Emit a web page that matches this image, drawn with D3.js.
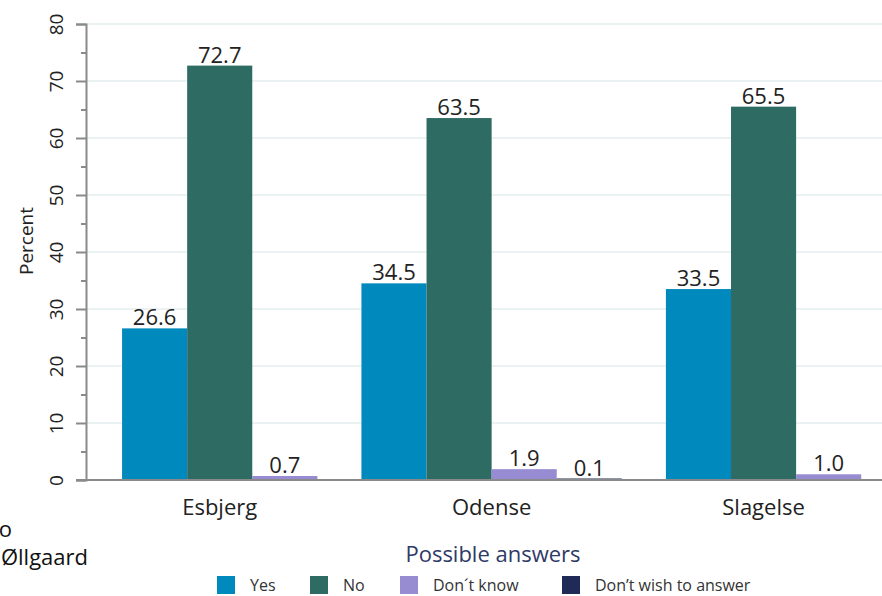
<!DOCTYPE html>
<html>
<head>
<meta charset="utf-8">
<script src="https://cdn.jsdelivr.net/npm/d3@7"></script>
<style>
  body { margin: 0; background: #fff; }
  svg { display: block; font-family: "Open Sans", sans-serif; }
</style>
</head>
<body>
<svg id="chart" width="882" height="596"></svg>
<script>
// data
var cities = ['Esbjerg', 'Odense', 'Slagelse'];
var answers = ['Yes', 'No', 'Don\u00b4t know', 'Don\u2019t wish to answer'];
var yesValues = [26.6, 34.5, 33.5];
var noValues = [72.7, 63.5, 65.5];
var dontKnowValues = [0.7, 1.9, 1.0];
var dontWishValues = [null, 0.1, null];
var yTicks = [0, 10, 20, 30, 40, 50, 60, 70, 80];
var yMinorTicks = [5, 15, 25, 35, 45, 55, 65, 75];

var colors = ['#0089bd', '#2e6b62', '#978bd2', '#1f2b56'];

var svg = d3.select('#chart');
// note: "top" is taken by window.top, so plot edges get their own names
var plotLeft = 86, plotBottom = 480, plotTop = 24, plotRight = 882;

var y = d3.scaleLinear().domain([0, 80]).range([plotBottom, plotTop]);

// bars are laid out in slots; missing answers take no slot
var series = [yesValues, noValues, dontKnowValues, dontWishValues];
var padUnits = 0.554, gapUnits = 0.677;
var bars = [];
var groups = [];
var pos = padUnits;
cities.forEach(function (city, ci) {
    var start = pos;
    series.forEach(function (vals, si) {
        if (vals[ci] == null) return;
        bars.push({city: city, answer: si, value: vals[ci], u: pos});
        pos += 1;
    });
    groups.push({city: city, mid: (start + pos) / 2});
    pos += gapUnits;
});
var totalUnits = pos - gapUnits + padUnits;
var x = d3.scaleLinear().domain([0, totalUnits]).range([plotLeft, plotLeft + totalUnits * 65.1]);
var bw = x(1) - x(0);

// gridlines
svg.append('g')
    .selectAll('line')
    .data(yTicks.slice(1))
    .enter().append('line')
    .attr('x1', plotLeft).attr('x2', plotRight)
    .attr('y1', function (d) { return y(d); })
    .attr('y2', function (d) { return y(d); })
    .attr('stroke', '#e4eeef')
    .attr('stroke-width', 1.5);

// bars (keep tiny ones visible as a thin line)
svg.append('g')
    .selectAll('rect')
    .data(bars)
    .enter().append('rect')
    .attr('x', function (d) { return x(d.u); })
    .attr('width', bw)
    .attr('y', function (d) { return Math.min(y(d.value), y(0) - 1.5); })
    .attr('height', function (d) { return Math.max(y(0) - y(d.value), 1.5); })
    .attr('fill', function (d) { return colors[d.answer]; });

// value labels
svg.append('g')
    .selectAll('text')
    .data(bars)
    .enter().append('text')
    .attr('x', function (d) { return x(d.u + 0.5); })
    .attr('y', function (d) { return y(d.value) - 3; })
    .attr('text-anchor', 'middle')
    .attr('font-size', 22)
    .attr('fill', '#222')
    .text(function (d) { return d.value.toFixed(1); });

// y axis
var yAxis = svg.append('g')
    .attr('transform', 'translate(' + plotLeft + ',0)')
    .call(d3.axisLeft(y).tickValues(yTicks).tickSize(10).tickPadding(0));
yAxis.select('.domain').attr('stroke', '#8a8a8a').attr('stroke-width', 2);
yAxis.selectAll('.tick line').attr('stroke', '#8a8a8a').attr('stroke-width', 2);
yAxis.selectAll('.tick text')
    .attr('font-family', '"Open Sans", sans-serif')
    .attr('font-size', 19)
    .attr('fill', '#222')
    .attr('x', 0).attr('y', 0).attr('dy', 0)
    .attr('text-anchor', 'middle')
    .attr('transform', 'translate(-23,0) rotate(-90)');

var yMinor = svg.append('g')
    .attr('transform', 'translate(' + plotLeft + ',0)')
    .call(d3.axisLeft(y).tickValues(yMinorTicks).tickSize(5).tickFormat(''));
yMinor.select('.domain').remove();
yMinor.selectAll('.tick line').attr('stroke', '#8a8a8a').attr('stroke-width', 2);

// x baseline
svg.append('line')
    .attr('x1', plotLeft - 10).attr('x2', plotRight)
    .attr('y1', y(0)).attr('y2', y(0))
    .attr('stroke', '#8a8a8a').attr('stroke-width', 2);

// category labels
svg.append('g')
    .selectAll('text')
    .data(groups)
    .enter().append('text')
    .attr('x', function (d) { return x(d.mid); })
    .attr('y', 515)
    .attr('text-anchor', 'middle')
    .attr('font-size', 22)
    .attr('fill', '#222')
    .text(function (d) { return d.city; });

// y title
svg.append('text')
    .attr('transform', 'translate(33,241) rotate(-90)')
    .attr('text-anchor', 'middle')
    .attr('font-size', 19)
    .attr('fill', '#222')
    .text('Percent');

// cut-off text on the left edge
svg.append('text')
    .attr('x', 12).attr('y', 537)
    .attr('text-anchor', 'end')
    .attr('font-size', 22)
    .attr('fill', '#111')
    .text('o');
svg.append('text')
    .attr('x', 88).attr('y', 565)
    .attr('text-anchor', 'end')
    .attr('font-size', 22)
    .attr('fill', '#111')
    .text('\u00d8llgaard');

// legend
svg.append('text')
    .attr('x', 493).attr('y', 562)
    .attr('text-anchor', 'middle')
    .attr('font-size', 22)
    .attr('fill', '#2e3a66')
    .text('Possible answers');

var legendX = [217, 310, 400, 562];
var legend = svg.append('g')
    .selectAll('g')
    .data(answers)
    .enter().append('g')
    .attr('transform', function (d, i) { return 'translate(' + legendX[i] + ',576)'; });
legend.append('rect')
    .attr('width', 18).attr('height', 18)
    .attr('fill', function (d, i) { return colors[i]; });
legend.append('text')
    .attr('x', 33).attr('y', 15)
    .attr('font-size', 16)
    .attr('fill', '#333')
    .text(function (d) { return d; });
</script>
</body>
</html>
